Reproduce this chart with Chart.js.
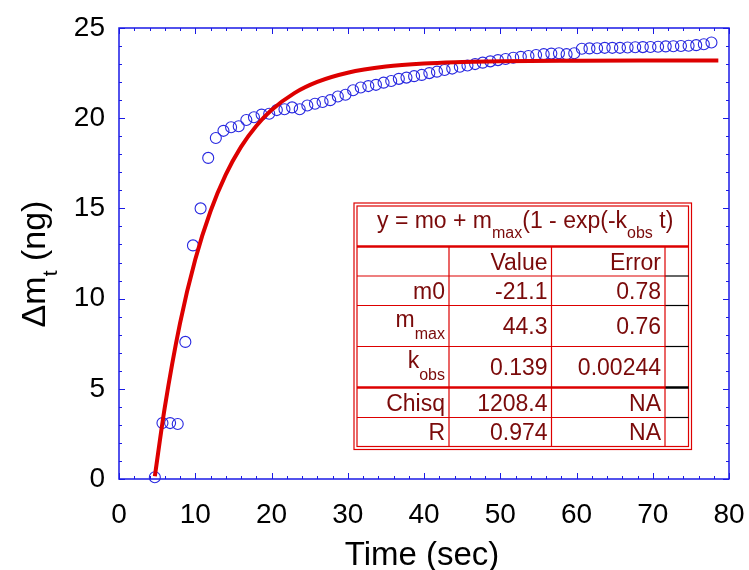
<!DOCTYPE html>
<html>
<head>
<meta charset="utf-8">
<script src="https://cdn.jsdelivr.net/npm/chart.js@4.4.0/dist/chart.umd.min.js"></script>
<style>
  html, body { margin: 0; padding: 0; background: #fff; }
  #wrap { width: 749px; height: 570px; }
</style>
</head>
<body>
<div id="wrap"><canvas id="massChart" width="749" height="570"></canvas></div>
<script>
// measured data (time in sec, mass change in ng)
var times = [4.7, 5.7, 6.7, 7.7, 8.7, 9.7, 10.7, 11.7, 12.7, 13.7, 14.7, 15.7, 16.7, 17.7, 18.7, 19.7,
    20.7, 21.7, 22.7, 23.7, 24.7, 25.7, 26.7, 27.7, 28.7, 29.7, 30.7, 31.7, 32.7, 33.7, 34.7, 35.7,
    36.7, 37.7, 38.7, 39.7, 40.7, 41.7, 42.7, 43.7, 44.7, 45.7, 46.7, 47.7, 48.7, 49.7, 50.7, 51.7,
    52.7, 53.7, 54.7, 55.7, 56.7, 57.7, 58.7, 59.7, 60.7, 61.7, 62.7, 63.7, 64.7, 65.7, 66.7, 67.7,
    68.7, 69.7, 70.7, 71.7, 72.7, 73.7, 74.7, 75.7, 76.7, 77.7];
var massGain = [0.1, 3.1, 3.1, 3.05, 7.6, 12.95, 15.0, 17.8, 18.9, 19.3, 19.5, 19.55, 19.9, 20.05, 20.2, 20.25,
    20.45, 20.5, 20.6, 20.5, 20.7, 20.8, 20.9, 21.0, 21.2, 21.3, 21.55, 21.7, 21.78, 21.85, 21.97, 22.06,
    22.18, 22.25, 22.33, 22.4, 22.5, 22.58, 22.67, 22.75, 22.85, 22.92, 23.0, 23.08, 23.15, 23.22, 23.28, 23.35,
    23.4, 23.45, 23.5, 23.55, 23.58, 23.6, 23.55, 23.6, 23.85, 23.87, 23.88, 23.9, 23.9, 23.9, 23.92, 23.93,
    23.94, 23.95, 23.96, 23.98, 23.99, 24.0, 24.02, 24.05, 24.1, 24.2];

// fitted curve
var fitTimes = [4.7, 6, 8, 10, 12, 14, 16, 18, 20, 23, 26, 30, 35, 40, 45, 50, 60, 70, 78.6];
var fitValues = [0.15, 3.96, 8.63, 12.17, 14.84, 16.87, 18.41, 19.57, 20.45, 21.39, 22.01, 22.52, 22.86,
    23.03, 23.11, 23.16, 23.19, 23.2, 23.2];

var xTicks = [0, 10, 20, 30, 40, 50, 60, 70, 80];
var yTicks = [0, 5, 10, 15, 20, 25];

// fit results table
var paramNames = [['m0', ''], ['m', 'max'], ['k', 'obs'], ['Chisq', ''], ['R', '']];
var paramValues = ['-21.1', '44.3', '0.139', '1208.4', '0.974'];
var paramErrors = ['0.78', '0.76', '0.00244', 'NA', 'NA'];

var FONT = '"Liberation Sans", Arial, sans-serif';
var AXIS_BLUE = '#1a1ae6';
var TABLE_RED = '#dd0000';
var TEXT_RED = '#7a0a0a';

function subText(ctx, x, y, main, sub, size, subSize, drop) {
    // draws main + subscript starting at x, returns end x
    ctx.font = size + 'px ' + FONT;
    ctx.fillText(main, x, y);
    x += ctx.measureText(main).width;
    if (sub) {
        ctx.font = subSize + 'px ' + FONT;
        ctx.fillText(sub, x, y + drop);
        x += ctx.measureText(sub).width;
    }
    return x;
}

var framePlugin = {
    id: 'frame',
    beforeDatasetsDraw: function (chart) {
        var ctx = chart.ctx, a = chart.chartArea;
        var xs = chart.scales.x, ys = chart.scales.y;
        ctx.save();
        ctx.strokeStyle = AXIS_BLUE;
        ctx.lineWidth = 1.5;
        ctx.strokeRect(a.left, a.top, a.right - a.left, a.bottom - a.top);
        ctx.lineWidth = 1;
        ctx.beginPath();
        for (var v = 0; v <= 80; v += 2) {
            var px = Math.round(xs.getPixelForValue(v)) + 0.5;
            var len = v % 10 === 0 ? 6 : 3;
            ctx.moveTo(px, a.bottom); ctx.lineTo(px, a.bottom - len);
            ctx.moveTo(px, a.top); ctx.lineTo(px, a.top + len);
        }
        for (var w = 0; w <= 25; w += 1) {
            var py = Math.round(ys.getPixelForValue(w)) + 0.5;
            var l2 = w % 5 === 0 ? 6 : 3;
            ctx.moveTo(a.left, py); ctx.lineTo(a.left + l2, py);
            ctx.moveTo(a.right, py); ctx.lineTo(a.right - l2, py);
        }
        ctx.stroke();

        // axis titles
        ctx.fillStyle = '#000';
        ctx.textBaseline = 'alphabetic';
        ctx.textAlign = 'center';
        ctx.font = '33px ' + FONT;
        ctx.fillText('Time (sec)', 422, 565);

        ctx.translate(45, 264);
        ctx.rotate(-Math.PI / 2);
        ctx.textAlign = 'left';
        ctx.font = '34px ' + FONT;
        var w1 = ctx.measureText('\u0394m').width + ctx.measureText(' (ng)').width;
        ctx.font = '21px ' + FONT;
        var total = w1 + ctx.measureText('t').width;
        var x0 = subText(ctx, -total / 2, 0, '\u0394m', 't', 34, 21, 12);
        ctx.font = '34px ' + FONT;
        ctx.fillText(' (ng)', x0, 0);
        ctx.restore();
    },
    afterDatasetsDraw: function (chart) {
        var ctx = chart.ctx;
        var L = 354, R = 691.5, T = 203, B = 449.5;
        var cols = [449, 551.5, 665];
        var rows = [246.5, 276, 305.5, 346.5, 387.5, 417.5];
        ctx.save();
        ctx.fillStyle = '#fff';
        ctx.fillRect(L, T, R - L, B - T);
        ctx.strokeStyle = TABLE_RED;
        ctx.lineWidth = 1.2;
        ctx.strokeRect(L, T, R - L, B - T);
        ctx.strokeRect(L + 3, T + 3, R - L - 6, B - T - 6);
        // row lines
        rows.forEach(function (ry, i) {
            ctx.lineWidth = (i === 0 || i === 4) ? 2.5 : 1.2;
            ctx.strokeStyle = TABLE_RED;
            ctx.beginPath();
            ctx.moveTo(L + 3, ry);
            ctx.lineTo(i === 0 ? R - 3 : cols[2], ry);
            ctx.stroke();
            if (i > 0) {
                ctx.strokeStyle = '#000';
                ctx.beginPath();
                ctx.moveTo(cols[2], ry);
                ctx.lineTo(R - 3, ry);
                ctx.stroke();
            }
        });
        ctx.strokeStyle = TABLE_RED;
        ctx.lineWidth = 1.2;
        ctx.beginPath();
        cols.forEach(function (cx) {
            ctx.moveTo(cx, rows[0]); ctx.lineTo(cx, B - 3);
        });
        ctx.stroke();

        // equation
        ctx.fillStyle = TEXT_RED;
        ctx.textBaseline = 'alphabetic';
        ctx.textAlign = 'left';
        var x = 377;
        x = subText(ctx, x, 228, 'y = mo + m', 'max', 23, 16, 10);
        x = subText(ctx, x, 228, '(1 - exp(-k', 'obs', 23, 16, 10);
        subText(ctx, x, 228, ' t)', '', 23, 16, 10);

        // header
        ctx.font = '23px ' + FONT;
        ctx.textAlign = 'right';
        ctx.fillText('Value', cols[1] - 4, 270);
        ctx.fillText('Error', cols[2] - 4, 270);

        for (var i = 0; i < paramNames.length; i++) {
            var top = rows[i + 1], bot = i + 2 < rows.length ? rows[i + 2] : B - 3;
            var base = (top + bot) / 2 + 8;
            ctx.textAlign = 'right';
            ctx.font = '23px ' + FONT;
            ctx.fillText(paramValues[i], cols[1] - 4, base);
            ctx.fillText(paramErrors[i], cols[2] - 4, base);
            var nm = paramNames[i];
            if (nm[1]) {
                ctx.font = '16px ' + FONT;
                var sw = ctx.measureText(nm[1]).width;
                ctx.fillText(nm[1], cols[0] - 4, base + 5);
                ctx.font = '23px ' + FONT;
                ctx.fillText(nm[0], cols[0] - 4 - sw, base - 7);
            } else {
                ctx.fillText(nm[0], cols[0] - 4, base);
            }
        }
        ctx.restore();
    }
};

var scatterPoints = times.map(function (t, i) { return { x: t, y: massGain[i] }; });
var fitPoints = fitTimes.map(function (t, i) { return { x: t, y: fitValues[i] }; });

var ctx = document.getElementById('massChart').getContext('2d');
var massChart = new Chart(ctx, {
    type: 'scatter',
    data: {
        datasets: [{
            label: 'fit',
            type: 'line',
            data: fitPoints,
            borderColor: '#dd0000',
            borderWidth: 4,
            pointRadius: 0,
            cubicInterpolationMode: 'monotone',
            fill: false,
            clip: false
        }, {
            label: 'data',
            data: scatterPoints,
            pointStyle: 'circle',
            pointRadius: 5.5,
            pointBorderWidth: 1.1,
            pointBackgroundColor: 'rgba(0,0,0,0)',
            pointBorderColor: '#2828e0',
            clip: false
        }]
    },
    options: {
        responsive: false,
        animation: false,
        events: [],
        layout: { padding: { top: 28, right: 20, left: 0, bottom: 0 } },
        plugins: { legend: { display: false }, tooltip: { enabled: false } },
        scales: {
            x: {
                type: 'linear',
                min: 0, max: 80,
                afterFit: function (s) { s.height = 91; s.paddingLeft = 0; s.paddingRight = 0; },
                afterBuildTicks: function (s) { s.ticks = xTicks.map(function (v) { return { value: v }; }); },
                grid: { display: false, drawTicks: false },
                border: { display: false },
                ticks: { color: '#000', font: { size: 28, family: FONT }, padding: 19, maxRotation: 0 }
            },
            y: {
                type: 'linear',
                min: 0, max: 25,
                afterFit: function (s) { s.width = 119; s.paddingTop = 0; s.paddingBottom = 0; },
                afterBuildTicks: function (s) { s.ticks = yTicks.map(function (v) { return { value: v }; }); },
                grid: { display: false, drawTicks: false },
                border: { display: false },
                ticks: { color: '#000', font: { size: 28, family: FONT }, padding: 14 }
            }
        }
    },
    plugins: [framePlugin]
});
</script>
</body>
</html>
